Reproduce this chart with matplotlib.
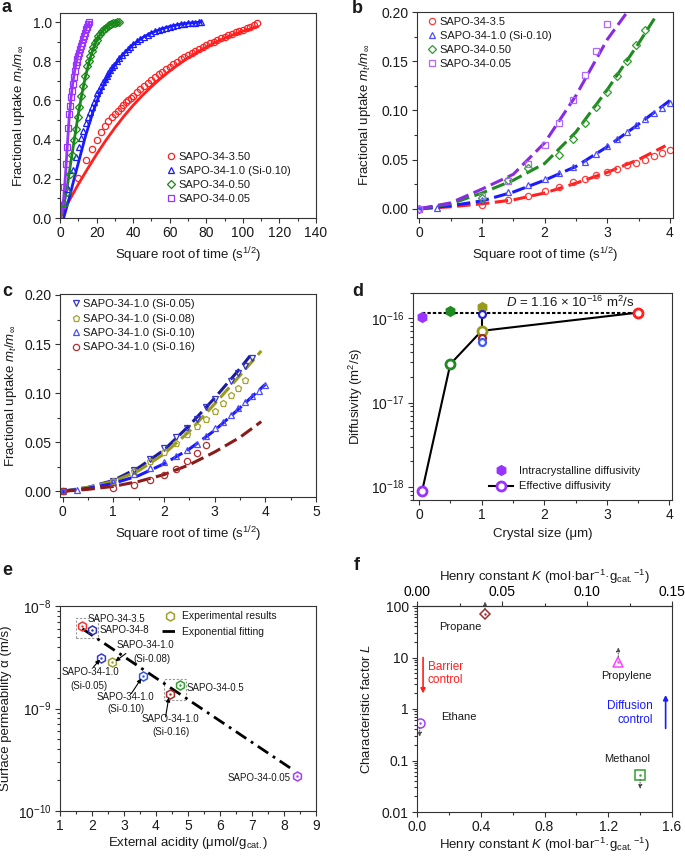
import matplotlib
matplotlib.use('Agg')
import matplotlib.pyplot as plt
from matplotlib.ticker import MultipleLocator, LogLocator, FixedLocator, FuncFormatter, NullFormatter, FormatStrFormatter
from matplotlib.patches import Rectangle

plt.rcParams['font.family'] = ['Liberation Sans', 'DejaVu Sans']
plt.rcParams['mathtext.fontset'] = 'custom'
plt.rcParams['mathtext.rm'] = 'Liberation Sans'
plt.rcParams['mathtext.it'] = 'Liberation Sans:italic'
plt.rcParams['mathtext.bf'] = 'Liberation Sans:bold'
plt.rcParams['axes.linewidth'] = 0.8
plt.rcParams['axes.edgecolor'] = '#333333'
plt.rcParams['text.color'] = '#1a1a1a'
plt.rcParams['axes.labelcolor'] = '#1a1a1a'

# ---- panel a: full uptake curves (markers = data, lines = fit)
a_red_x = [10, 14.1, 17.3, 20, 22.4, 24.5, 26.5, 28.3, 30, 31.6, 33.2, 34.6, 36.1, 37.4, 38.7, 40,
           42, 44, 46, 48, 50, 52, 54, 56, 58, 60, 62, 64, 66, 68, 70, 72, 74, 76, 78, 80,
           82, 84, 86, 88, 90, 92, 94, 96, 98, 100, 102, 104, 106, 108]
a_red_y = [0.206, 0.294, 0.354, 0.40, 0.438, 0.469, 0.494, 0.515, 0.532, 0.548, 0.563, 0.577, 0.59, 0.602, 0.613, 0.624,
           0.645, 0.66, 0.675, 0.69, 0.705, 0.719, 0.733, 0.747, 0.76, 0.773, 0.785, 0.797, 0.809, 0.82, 0.831, 0.842,
           0.852, 0.862, 0.872, 0.882, 0.891, 0.9, 0.909, 0.917, 0.925, 0.933, 0.94, 0.947, 0.954, 0.961, 0.968, 0.976,
           0.985, 0.995]
a_red_fx = [0, 5, 10, 15, 20, 25, 30, 35, 40, 45, 50, 55, 60, 65, 70, 75, 80, 85, 90, 95, 100, 105, 108]
a_red_fy = [0, 0.088, 0.172, 0.25, 0.325, 0.395, 0.46, 0.52, 0.575, 0.625, 0.67, 0.712, 0.75, 0.785, 0.817,
            0.846, 0.872, 0.896, 0.917, 0.936, 0.953, 0.968, 0.976]

a_blue_x = [4.5, 6.9, 8.75, 10.2, 11.5, 12.8, 14, 15.1, 16.3, 17.3, 18.4, 19.5, 20.5, 21.5, 22.5, 23.5, 24.5,
            25.5, 26.5, 27.5, 28.5, 29.5, 31, 32.5, 34, 35.5, 37, 38.5, 40, 42, 44, 46, 48, 50, 52, 54, 56, 58,
            60, 62, 64, 66, 68, 70, 72, 74, 76, 77]
a_blue_y = [0.15, 0.247, 0.311, 0.362, 0.408, 0.443, 0.484, 0.514, 0.54, 0.565, 0.59, 0.614, 0.636, 0.655, 0.674,
            0.692, 0.709, 0.725, 0.74, 0.755, 0.769, 0.782, 0.80, 0.818, 0.834, 0.849, 0.862, 0.875, 0.887, 0.901,
            0.914, 0.926, 0.936, 0.945, 0.953, 0.96, 0.966, 0.972, 0.977, 0.981, 0.985, 0.988, 0.991, 0.993, 0.995,
            0.997, 0.999, 1.0]
a_blue_fx = [2, 5, 8, 10, 12, 14, 16, 18, 20, 22, 25, 30, 35, 40, 45, 50, 55, 60, 65, 70, 77]
a_blue_fy = [0, 0.1, 0.21, 0.28, 0.35, 0.42, 0.48, 0.54, 0.59, 0.64, 0.70, 0.78, 0.84, 0.885, 0.92, 0.945,
             0.963, 0.977, 0.987, 0.994, 1.0]

a_green_x = [2.4, 3.6, 5.5, 6.7, 7.8, 8.75, 9.7, 10.4, 11.5, 12.6, 13.7, 14.9, 15.6, 16.4, 17.3, 18.2, 19.1,
             20, 21, 22, 23, 24, 25, 26, 27, 28, 29, 30, 31, 32]
a_green_y = [0.07, 0.134, 0.227, 0.32, 0.396, 0.455, 0.514, 0.565, 0.624, 0.675, 0.726, 0.777, 0.80, 0.827,
             0.853, 0.873, 0.893, 0.91, 0.927, 0.941, 0.953, 0.963, 0.972, 0.979, 0.985, 0.99, 0.994, 0.997,
             0.999, 1.0]
a_green_fx = [0, 2, 4, 6, 8, 10, 12, 14, 16, 18, 20, 22, 24, 26, 28, 30, 32]
a_green_fy = [0, 0.06, 0.16, 0.29, 0.41, 0.53, 0.635, 0.725, 0.80, 0.86, 0.905, 0.938, 0.962, 0.978, 0.989,
              0.996, 1.0]

a_purple_x = [1.3, 2.4, 3.3, 4.0, 4.55, 4.9, 5.5, 5.85, 6.4, 6.9, 7.5, 8.2, 8.75, 9.1, 9.5, 9.9, 10.4, 10.8,
              11.3, 11.8, 12.4, 13.0, 13.7, 14.3, 14.9, 15.5, 16]
a_purple_y = [0.066, 0.159, 0.278, 0.362, 0.46, 0.531, 0.574, 0.616, 0.65, 0.684, 0.717, 0.751, 0.78, 0.797,
              0.81, 0.826, 0.844, 0.861, 0.878, 0.895, 0.912, 0.93, 0.946, 0.962, 0.977, 0.99, 1.0]
a_purple_fx = [0, 1, 2, 3, 4, 5, 6, 7, 8, 9, 10, 11, 12, 13, 14, 15, 16]
a_purple_fy = [0, 0.04, 0.10, 0.22, 0.37, 0.51, 0.61, 0.69, 0.75, 0.80, 0.845, 0.88, 0.91, 0.937, 0.96, 0.982, 0.998]

# ---- panel b: initial uptake
b_x_red = [0, 1, 1.414, 1.732, 2, 2.236, 2.449, 2.646, 2.828, 3, 3.162, 3.317, 3.464, 3.606, 3.742, 3.873, 4]
b_y_red = [0, 0.004, 0.0088, 0.013, 0.0176, 0.022, 0.0267, 0.030, 0.034, 0.037, 0.0405, 0.0446, 0.047, 0.050,
           0.054, 0.057, 0.060]
b_x_blue = [0, 0.28, 1, 1.414, 1.732, 2, 2.236, 2.449, 2.646, 2.828, 3, 3.162, 3.317, 3.464, 3.606, 3.742, 3.873, 4]
b_y_blue = [0, 0.001, 0.009, 0.0172, 0.024, 0.030, 0.036, 0.042, 0.048, 0.056, 0.064, 0.071, 0.078, 0.085,
            0.091, 0.097, 0.102, 0.108]
b_x_green = [0, 1, 1.414, 1.732, 2.236, 2.449, 2.646, 2.828, 3, 3.162, 3.317, 3.464, 3.606]
b_y_green = [0, 0.011, 0.029, 0.041, 0.055, 0.0706, 0.0868, 0.103, 0.119, 0.135, 0.150, 0.166, 0.182]
b_x_purple = [0, 1, 1.414, 1.732, 2, 2.236, 2.449, 2.646, 2.828, 3]
b_y_purple = [0, 0.0125, 0.028, 0.045, 0.065, 0.087, 0.111, 0.136, 0.160, 0.188]

b_fx_red = [0, 0.5, 1, 1.5, 2, 2.5, 3, 3.5, 3.93]
b_fy_red = [0, 0.002, 0.005, 0.009, 0.016, 0.026, 0.037, 0.050, 0.064]
b_fx_blue = [0, 0.5, 1, 1.5, 2, 2.5, 3, 3.5, 4]
b_fy_blue = [0, 0.003, 0.008, 0.017, 0.029, 0.043, 0.063, 0.086, 0.110]
b_fx_green = [0, 0.5, 1, 1.5, 2, 2.5, 3, 3.5, 3.77]
b_fy_green = [0, 0.005, 0.016, 0.029, 0.046, 0.078, 0.121, 0.168, 0.195]
b_fx_purple = [0, 0.5, 1, 1.5, 2, 2.5, 3, 3.32]
b_fy_purple = [0, 0.006, 0.020, 0.035, 0.067, 0.115, 0.172, 0.200]

# ---- panel c: SAPO-34-1.0 with different Si content
c_x_05 = [0, 1, 1.414, 1.732, 2, 2.236, 2.449, 2.646, 2.828, 3, 3.317, 3.464, 3.606, 3.742]
c_y_05 = [0, 0.010, 0.022, 0.033, 0.044, 0.055, 0.064, 0.074, 0.086, 0.094, 0.112, 0.121, 0.128, 0.136]
c_x_08 = [0, 1, 1.414, 1.732, 2, 2.236, 2.449, 2.646, 2.828, 3, 3.162, 3.317, 3.464, 3.606]
c_y_08 = [0, 0.011, 0.021, 0.031, 0.040, 0.049, 0.058, 0.067, 0.074, 0.082, 0.090, 0.098, 0.105, 0.113]
c_x_10 = [0, 0.28, 1, 1.414, 1.732, 2, 2.236, 2.449, 2.646, 2.828, 3, 3.162, 3.317, 3.464, 3.606, 3.742, 3.873, 4]
c_y_10 = [0, 0.001, 0.009, 0.0172, 0.024, 0.030, 0.036, 0.042, 0.048, 0.056, 0.064, 0.071, 0.078, 0.085,
          0.091, 0.097, 0.102, 0.108]
c_x_16 = [0, 1, 1.414, 1.732, 2, 2.236, 2.449, 2.646, 2.828]
c_y_16 = [0, 0.0034, 0.0068, 0.0118, 0.017, 0.023, 0.031, 0.039, 0.047]

c_fx_05 = [0, 0.5, 1, 1.5, 2, 2.5, 3, 3.5, 3.7]
c_fy_05 = [0, 0.004, 0.011, 0.024, 0.042, 0.067, 0.095, 0.125, 0.138]
c_fx_08 = [0, 0.5, 1, 1.5, 2, 2.5, 3, 3.5, 3.92]
c_fy_08 = [0, 0.004, 0.010, 0.021, 0.038, 0.061, 0.089, 0.118, 0.143]
c_fx_10 = [0, 0.5, 1, 1.5, 2, 2.5, 3, 3.5, 4]
c_fy_10 = [0, 0.003, 0.008, 0.016, 0.028, 0.043, 0.062, 0.085, 0.109]
c_fx_16 = [0, 0.5, 1, 1.5, 2, 2.5, 3, 3.5, 3.92]
c_fy_16 = [0, 0.002, 0.005, 0.010, 0.017, 0.027, 0.040, 0.055, 0.071]

# ---- panel d: diffusivity vs crystal size
d_size = [0.05, 0.5, 1.0, 3.5]
d_eff = [8.9e-19, 2.86e-17, 7.1e-17, 1.17e-16]
d_intra = [1.045e-16, 1.23e-16, 1.37e-16, 1.17e-16]
d_colors = ['#9933ff', '#1f8a1f', '#9a9a1a', '#ff2020']
d_si_size = [1.0, 1.0, 1.0]
d_si_eff = [1.12e-16, 5.9e-17, 5.25e-17]
d_si_colors = ['#2424c8', '#a02828', '#3a5aff']
d_const = 1.16e-16

# ---- panel e: surface permeability vs external acidity
e_acid = [1.68, 1.99, 2.29, 2.62, 3.58, 4.43, 4.74, 8.40]
e_perm = [6.34e-9, 5.88e-9, 3.14e-9, 2.83e-9, 2.07e-9, 1.38e-9, 1.70e-9, 2.21e-10]
e_colors = ['#ff3030', '#3030b0', '#3a3ad0', '#a0a030', '#3355ee', '#b02828', '#33a033', '#a040ff']
e_fit_x = [1.7, 8.3]
e_fit_y = [6.0e-9, 2.5e-10]

# ---- panel f: characteristic factor vs Henry constant
f_henry = [0.427, 1.263, 0.017, 1.40]
f_L = [69.8, 8.3, 0.54, 0.053]
f_names = ['Propane', 'Propylene', 'Ethane', 'Methanol']
f_markers = ['D', '^', 'o', 's']
f_colors = ['#a03030', '#ff40ff', '#a040ff', '#33a033']

W, H = 685, 856
fig = plt.figure(figsize=(W / 100, H / 100), dpi=100)


def box(l, r, t, b):
    return [l / W, 1 - b / H, (r - l) / W, (b - t) / H]


def style(ax):
    ax.tick_params(which='both', direction='out', top=False, right=False, labelsize=10,
                   width=0.8, color='#333333', labelcolor='#1a1a1a')
    ax.tick_params(which='major', length=3.5, pad=2.5)
    ax.tick_params(which='minor', length=2)


def panel_label(x, y, s):
    fig.text(x / W, 1 - y / H, s, fontsize=13, fontweight='bold', va='baseline', ha='left')


mk = dict(ls='none', mfc='none', ms=4.5, mew=0.9)

# ================= a
ax = fig.add_axes(box(60, 316, 13, 218))
style(ax)
for fx, fy, c in [(a_red_fx, a_red_fy, '#ff2020'), (a_blue_fx, a_blue_fy, '#1a1aff'),
                  (a_green_fx, a_green_fy, '#188818'), (a_purple_fx, a_purple_fy, '#9933ff')]:
    ax.plot(fx, fy, color=c, lw=2)
h1, = ax.plot(a_red_x, a_red_y, marker='o', mec='#ff2020', **mk)
h2, = ax.plot(a_blue_x, a_blue_y, marker='^', mec='#1a1aff', **mk)
h3, = ax.plot(a_green_x, a_green_y, marker='D', mec='#188818', ms=4, mew=0.9, ls='none', mfc='none')
h4, = ax.plot(a_purple_x, a_purple_y, marker='s', mec='#9933ff', ms=4, mew=0.9, ls='none', mfc='none')
ax.set_xlim(0, 140)
ax.set_ylim(0, 1.046)
ax.xaxis.set_major_locator(MultipleLocator(20))
ax.xaxis.set_minor_locator(MultipleLocator(10))
ax.yaxis.set_major_locator(MultipleLocator(0.2))
ax.yaxis.set_minor_locator(MultipleLocator(0.1))
ax.yaxis.set_major_formatter(FormatStrFormatter('%.1f'))
ax.set_xlabel('Square root of time (s$^{1/2}$)', fontsize=9.5)
ax.set_ylabel(r'Fractional uptake $m_t/m_\infty$', fontsize=9.5)
ax.legend([h1, h2, h3, h4], ['SAPO-34-3.50', 'SAPO-34-1.0 (Si-0.10)', 'SAPO-34-0.50', 'SAPO-34-0.05'],
          loc='upper left', bbox_to_anchor=(0.416, 0.322), frameon=False, fontsize=8,
          handlelength=0.8, handletextpad=0.3, labelspacing=0.35, borderpad=0, borderaxespad=0)
panel_label(2, 12, 'a')

# ================= b
ax = fig.add_axes(box(417, 673, 12, 218))
style(ax)
dash = (4.4, 1.8)
for fx, fy, c in [(b_fx_red, b_fy_red, '#ff2020'), (b_fx_blue, b_fy_blue, '#1a1aff'),
                  (b_fx_green, b_fy_green, '#1f8a1f'), (b_fx_purple, b_fy_purple, '#8a2be2')]:
    ax.plot(fx, fy, color=c, lw=2.2, dashes=dash)
h1, = ax.plot(b_x_red, b_y_red, marker='o', mec='#ff3a3a', **mk)
h2, = ax.plot(b_x_blue, b_y_blue, marker='^', mec='#4d4dff', **mk)
h3, = ax.plot(b_x_green, b_y_green, marker='D', mec='#2e9a2e', ms=4, mew=0.9, ls='none', mfc='none')
h4, = ax.plot(b_x_purple, b_y_purple, marker='s', mec='#b066ff', ms=4, mew=0.9, ls='none', mfc='none')
ax.set_xlim(-0.037, 4.05)
ax.set_ylim(-0.0094, 0.2)
ax.xaxis.set_major_locator(MultipleLocator(1))
ax.xaxis.set_minor_locator(MultipleLocator(0.5))
ax.yaxis.set_major_locator(MultipleLocator(0.05))
ax.yaxis.set_minor_locator(MultipleLocator(0.025))
ax.yaxis.set_major_formatter(FormatStrFormatter('%.2f'))
ax.set_xlabel('Square root of time (s$^{1/2}$)', fontsize=9.5)
ax.set_ylabel(r'Fractional uptake $m_t/m_\infty$', fontsize=9.5, labelpad=6)
ax.legend([h1, h2, h3, h4], ['SAPO-34-3.5', 'SAPO-34-1.0 (Si-0.10)', 'SAPO-34-0.50', 'SAPO-34-0.05'],
          loc='upper left', bbox_to_anchor=(0.042, 0.976), frameon=False, fontsize=8,
          handlelength=0.8, handletextpad=0.3, labelspacing=0.35, borderpad=0, borderaxespad=0)
panel_label(352, 13, 'b')

# ================= c
ax = fig.add_axes(box(60, 316, 294, 497))
style(ax)
for fx, fy, c in [(c_fx_05, c_fy_05, '#1a1aa0'), (c_fx_08, c_fy_08, '#9a9a1a'),
                  (c_fx_10, c_fy_10, '#1a1aff'), (c_fx_16, c_fy_16, '#8b1a1a')]:
    ax.plot(fx, fy, color=c, lw=2.2, dashes=dash)
h1, = ax.plot(c_x_05, c_y_05, marker='v', mec='#3333cc', **mk)
h2, = ax.plot(c_x_08, c_y_08, marker='p', mec='#a3a32e', **mk)
h3, = ax.plot(c_x_10, c_y_10, marker='^', mec='#4d4dff', **mk)
h4, = ax.plot(c_x_16, c_y_16, marker='o', mec='#b03030', **mk)
ax.set_xlim(-0.05, 5.0)
ax.set_ylim(-0.0058, 0.201)
ax.xaxis.set_major_locator(MultipleLocator(1))
ax.xaxis.set_minor_locator(MultipleLocator(0.5))
ax.yaxis.set_major_locator(MultipleLocator(0.05))
ax.yaxis.set_minor_locator(MultipleLocator(0.025))
ax.yaxis.set_major_formatter(FormatStrFormatter('%.2f'))
ax.set_xlabel('Square root of time (s$^{1/2}$)', fontsize=9.5)
ax.set_ylabel(r'Fractional uptake $m_t/m_\infty$', fontsize=9.5)
ax.legend([h1, h2, h3, h4], ['SAPO-34-1.0 (Si-0.05)', 'SAPO-34-1.0 (Si-0.08)', 'SAPO-34-1.0 (Si-0.10)',
                             'SAPO-34-1.0 (Si-0.16)'],
          loc='upper left', bbox_to_anchor=(0.044, 0.975), frameon=False, fontsize=8,
          handlelength=0.8, handletextpad=0.3, labelspacing=0.4, borderpad=0, borderaxespad=0)
panel_label(2, 296, 'c')

# ================= d
ax = fig.add_axes(box(413, 672, 293, 500))
style(ax)
ax.set_yscale('log')
ax.plot([d_size[0], d_size[-1]], [d_const, d_const], color='k', lw=1.5, dashes=(1.6, 1.0))
ax.plot([d_si_size[0], d_si_size[0]], [d_eff[2], d_si_eff[0]], color='k', lw=1.5)
heff, = ax.plot(d_size, d_eff, color='k', lw=1.5)
for x, y, c in zip(d_size, d_intra, d_colors):
    ax.plot(x, y, marker='h', ls='none', ms=7, mfc=c, mec=c)
for x, y, c in zip(d_size, d_eff, d_colors):
    ax.plot(x, y, marker='o', ls='none', ms=6.5, mfc='white', mec=c, mew=2)
for x, y, c in zip(d_si_size, d_si_eff, d_si_colors):
    ax.plot(x, y, marker='o', ls='none', ms=5, mfc='white', mec=c, mew=1.6)
ax.set_xlim(-0.096, 4.04)
ax.set_ylim(6.95e-19, 2.0e-16)
ax.xaxis.set_major_locator(MultipleLocator(1))
ax.xaxis.set_minor_locator(MultipleLocator(0.5))
ax.yaxis.set_major_locator(LogLocator(base=10, numticks=10))
ax.yaxis.set_minor_locator(LogLocator(base=10, subs=range(2, 10), numticks=20))
ax.yaxis.set_minor_formatter(NullFormatter())
ax.text(1.39, 1.56e-16, r'$D$ = 1.16 × 10$^{-16}$ m$^2$/s', fontsize=9.5, va='center', ha='left')
ax.set_xlabel('Crystal size (μm)', fontsize=9.5)
ax.set_ylabel('Diffusivity (m$^2$/s)', fontsize=9.5)
hi, = ax.plot([], [], marker='h', ls='none', ms=7, mfc='#9933ff', mec='#9933ff')
he, = ax.plot([], [], marker='o', color='k', lw=1.5, ms=6.5, mfc='white', mec='#9933ff', mew=2)
ax.legend([hi, he], ['Intracrystalline diffusivity', 'Effective diffusivity'],
          loc='upper left', bbox_to_anchor=(0.293, 0.165), frameon=False, fontsize=8,
          handlelength=2.2, handletextpad=0.5, labelspacing=0.5, borderpad=0, borderaxespad=0)
panel_label(352, 296, 'd')

# ================= e
ax = fig.add_axes(box(60, 316, 606, 811))
style(ax)
ax.set_yscale('log')
hf, = ax.plot(e_fit_x, e_fit_y, color='k', lw=2, dashes=(4.5, 2, 1, 2))
for x, y, c in zip(e_acid, e_perm, e_colors):
    ax.plot(x, y, marker='h', ls='none', ms=6.5, mfc='none', mec=c, mew=1.1)
    ax.plot(x, y, marker='.', ls='none', ms=1.5, color=c)
ax.add_patch(Rectangle((1.50, 4.9e-9), 0.68, 7.7e-9 - 4.9e-9, fill=False, ec='#999999', lw=0.8, ls=(0, (2, 1.5))))
ax.add_patch(Rectangle((4.24, 1.22e-9), 0.70, 1.92e-9 - 1.22e-9, fill=False, ec='#999999', lw=0.8, ls=(0, (2, 1.5))))
fs = 7
ax.text(1.86, 7.5e-9, 'SAPO-34-3.5', fontsize=fs, ha='left', va='center')
ax.text(2.23, 5.8e-9, 'SAPO-34-8', fontsize=fs, ha='left', va='center')
ax.text(3.68, 4.14e-9, 'SAPO-34-1.0', fontsize=fs, ha='center', va='center')
ax.text(3.86, 3.02e-9, '(Si-0.08)', fontsize=fs, ha='center', va='center')
ax.text(1.96, 2.28e-9, 'SAPO-34-1.0', fontsize=fs, ha='center', va='center')
ax.text(1.91, 1.66e-9, '(Si-0.05)', fontsize=fs, ha='center', va='center')
ax.text(3.04, 1.30e-9, 'SAPO-34-1.0', fontsize=fs, ha='center', va='center')
ax.text(3.05, 9.85e-10, '(Si-0.10)', fontsize=fs, ha='center', va='center')
ax.text(4.46, 7.87e-10, 'SAPO-34-1.0', fontsize=fs, ha='center', va='center')
ax.text(4.46, 5.88e-10, '(Si-0.16)', fontsize=fs, ha='center', va='center')
ax.text(4.94, 1.57e-9, 'SAPO-34-0.5', fontsize=fs, ha='left', va='center')
ax.text(8.22, 2.08e-10, 'SAPO-34-0.05', fontsize=fs, ha='right', va='center')
arr = dict(arrowstyle='-|>', color='k', lw=0.8, mutation_scale=6, shrinkA=0, shrinkB=0)
ax.annotate('', xy=(2.25, 3.0e-9), xytext=(2.05, 2.55e-9), arrowprops=arr)
ax.annotate('', xy=(2.73, 2.89e-9), xytext=(3.06, 3.44e-9), arrowprops=arr)
ax.annotate('', xy=(3.54, 1.96e-9), xytext=(3.23, 1.40e-9), arrowprops=arr)
ax.annotate('', xy=(4.40, 1.28e-9), xytext=(4.30, 8.3e-10), arrowprops=arr)
ax.set_xlim(1, 9)
ax.set_ylim(1e-10, 1e-8)
ax.xaxis.set_major_locator(MultipleLocator(1))
ax.xaxis.set_minor_locator(MultipleLocator(0.5))
ax.yaxis.set_minor_locator(LogLocator(base=10, subs=range(2, 10), numticks=20))
ax.yaxis.set_minor_formatter(NullFormatter())
ax.set_xlabel(r'External acidity (μmol/g$_{\mathrm{cat.}}$)', fontsize=9.5, labelpad=1)
ax.set_ylabel('Surface permeability α (m/s)', fontsize=9.5)
hx, = ax.plot([], [], marker='h', ls='none', ms=6.5, mfc='none', mec='#a0a030', mew=1.1)
ax.legend([hx, hf], ['Experimental results', 'Exponential fitting'],
          loc='upper left', bbox_to_anchor=(0.398, 0.974), frameon=False, fontsize=7.5,
          handlelength=1.5, handletextpad=0.4, labelspacing=0.55, borderpad=0, borderaxespad=0)
panel_label(2, 575, 'e')

# ================= f
ax = fig.add_axes(box(417, 672, 606, 812))
style(ax)
ax.set_yscale('log')
for x, y, m, c in zip(f_henry, f_L, f_markers, f_colors):
    ax.plot(x, y, marker=m, ls='none', ms=6.5 if m != 'D' else 5.5, mfc='none', mec=c, mew=1.1)
    ax.plot(x, y, marker='.', ls='none', ms=1.5, color=c)
darr = dict(arrowstyle='-|>', color='#444444', lw=0.7, ls=':', mutation_scale=6, shrinkA=0, shrinkB=0)
ax.annotate('', xy=(f_henry[0], 122), xytext=(f_henry[0], f_L[0] * 1.25), arrowprops=darr, annotation_clip=False)
ax.annotate('', xy=(f_henry[1], 15.7), xytext=(f_henry[1], f_L[1] * 1.25), arrowprops=darr)
ax.annotate('', xy=(f_henry[2], 0.29), xytext=(f_henry[2], f_L[2] * 0.8), arrowprops=darr)
ax.annotate('', xy=(f_henry[3], 0.028), xytext=(f_henry[3], f_L[3] * 0.8), arrowprops=darr)
ax.text(0.272, 38.5, 'Propane', fontsize=8, ha='center', va='center')
ax.text(1.314, 4.35, 'Propylene', fontsize=8, ha='center', va='center')
ax.text(0.263, 0.684, 'Ethane', fontsize=8, ha='center', va='center')
ax.text(1.317, 0.109, 'Methanol', fontsize=8, ha='center', va='center')
ax.text(0.069, 4.9, 'Barrier\ncontrol', fontsize=8.5, color='#ff2020', ha='left', va='center', linespacing=1.2)
ax.text(1.48, 0.84, 'Diffusion\ncontrol', fontsize=8.5, color='#1a1aff', ha='right', va='center',
        linespacing=1.2, multialignment='right')
ax.annotate('', xy=(0.038, 2.0), xytext=(0.038, 10), arrowprops=dict(arrowstyle='-|>', color='#ff2020', lw=1.2,
                                                                    mutation_scale=7, shrinkA=0, shrinkB=0))
ax.annotate('', xy=(1.56, 1.87), xytext=(1.56, 0.42), arrowprops=dict(arrowstyle='-|>', color='#1a1aff', lw=1.2,
                                                                     mutation_scale=7, shrinkA=0, shrinkB=0))
ax.set_xlim(0, 1.6)
ax.set_ylim(0.01, 100)
ax.xaxis.set_major_locator(MultipleLocator(0.4))
ax.xaxis.set_minor_locator(MultipleLocator(0.2))
ax.xaxis.set_major_formatter(FormatStrFormatter('%.1f'))
ax.yaxis.set_major_locator(FixedLocator([0.01, 0.1, 1, 10, 100]))
ax.yaxis.set_major_formatter(FuncFormatter(lambda v, p: f'{v:g}'))
ax.yaxis.set_minor_locator(LogLocator(base=10, subs=range(2, 10), numticks=20))
ax.yaxis.set_minor_formatter(NullFormatter())
klabel = r'Henry constant $K$ (mol·bar$^{-1}$·g$_{\mathrm{cat.}}$$^{-1}$)'
ax.set_xlabel(klabel, fontsize=9.5, labelpad=1)
ax.set_ylabel('Characteristic factor $L$', fontsize=9.5, labelpad=6)
sec = ax.secondary_xaxis('top', functions=(lambda x: x * 0.09375, lambda x: x / 0.09375))
sec.xaxis.set_major_locator(MultipleLocator(0.05))
sec.xaxis.set_minor_locator(MultipleLocator(0.025))
sec.xaxis.set_major_formatter(FormatStrFormatter('%.2f'))
sec.tick_params(which='both', direction='out', labelsize=10, width=0.8, color='#333333')
sec.tick_params(which='major', length=3.5, pad=1.5)
sec.tick_params(which='minor', length=2)
sec.set_xlabel(klabel, fontsize=9.5, labelpad=3)
panel_label(354, 570, 'f')

fig.savefig('out.png', dpi=100)
